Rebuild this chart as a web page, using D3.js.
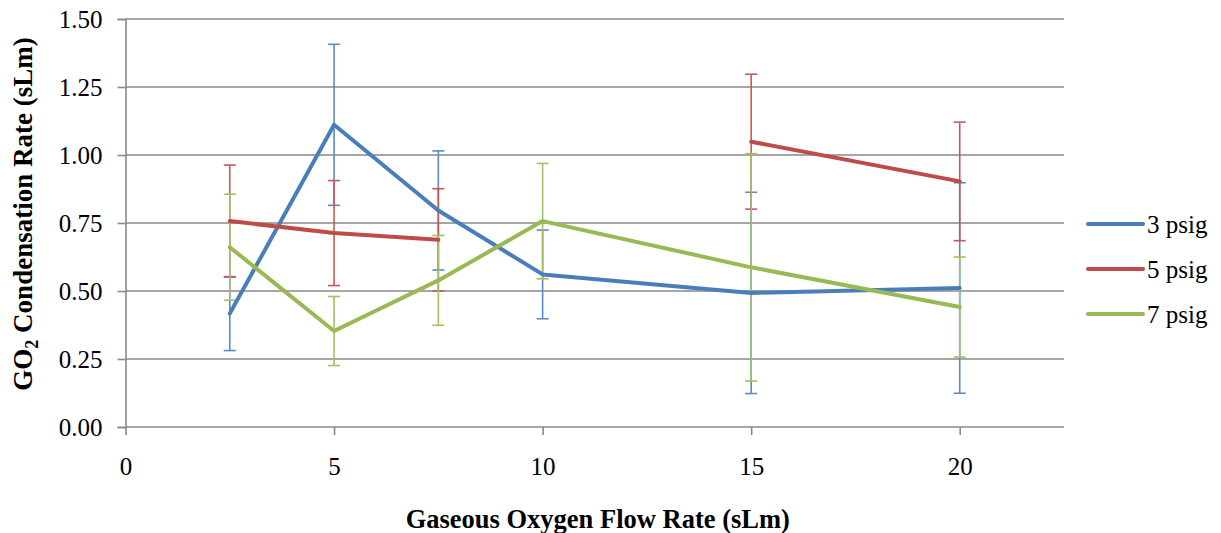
<!DOCTYPE html>
<html>
<head>
<meta charset="utf-8">
<script src="https://cdn.jsdelivr.net/npm/d3@7/dist/d3.min.js"></script>
<style>
  html, body { margin: 0; padding: 0; background: #fff; }
  svg { display: block; }
</style>
</head>
<body>
<svg id="chart" width="1221" height="533"></svg>
<script>
// Gaseous oxygen flow rates (sLm)
const flowRates = [2.5, 5, 7.5, 10, 15, 20];

// Mean GO2 condensation rate per tank pressure (null = not measured)
const psig3 = [0.417, 1.111, 0.796, 0.561, 0.493, 0.511];
const psig5 = [0.757, 0.713, 0.688, null, 1.049, 0.903];
const psig7 = [0.661, 0.353, 0.539, 0.757, 0.587, 0.441];

// Error bar half-widths (± one standard deviation)
const err3 = [0.136, 0.296, 0.219, 0.163, 0.370, 0.387];
const err5 = [0.206, 0.193, 0.188, null, 0.248, 0.218];
const err7 = [0.195, 0.127, 0.165, 0.212, 0.418, 0.184];

const seriesNames = ["3 psig", "5 psig", "7 psig"];
const seriesColors = ["#4a7ebb", "#be4b48", "#98b954"];
const errColors = ["#5b8ac4", "#c45a57", "#a2c063"];

const xTicks = [0, 5, 10, 15, 20];
const yTicks = [0, 0.25, 0.5, 0.75, 1.0, 1.25, 1.5];

const FONT = "Liberation Serif";

const series = [
  { name: seriesNames[0], values: psig3, errs: err3 },
  { name: seriesNames[1], values: psig5, errs: err5 },
  { name: seriesNames[2], values: psig7, errs: err7 }
];

const svg = d3.select("#chart");
const plot = { left: 125.5, right: 1064, top: 19, bottom: 427 };

const x = d3.scaleLinear().domain([0, 22.5]).range([plot.left, plot.right]);
const y = d3.scaleLinear().domain([0, 1.5]).range([plot.bottom, plot.top]);

const gridColor = "#898989";

// Horizontal gridlines
svg.append("g")
  .selectAll("line")
  .data(yTicks.filter(d => d > 0))
  .join("line")
  .attr("x1", plot.left).attr("x2", plot.right)
  .attr("y1", d => y(d)).attr("y2", d => y(d))
  .attr("stroke", gridColor).attr("stroke-width", 1.6);

// Y axis
const yAxis = svg.append("g")
  .attr("transform", `translate(${plot.left},0)`)
  .call(d3.axisLeft(y).tickValues(yTicks).tickFormat(d3.format(".2f")).tickSize(8).tickPadding(15));
yAxis.attr("font-family", FONT).attr("font-size", 25);
yAxis.select(".domain").attr("stroke", gridColor).attr("stroke-width", 1.6);
yAxis.selectAll(".tick line").attr("stroke", gridColor).attr("stroke-width", 1.6);
yAxis.selectAll(".tick text")
  .attr("font-family", FONT).attr("font-size", 25).attr("fill", "#000")
  .attr("dy", "0.33em");

// X axis
const xAxis = svg.append("g")
  .attr("transform", `translate(0,${plot.bottom})`)
  .call(d3.axisBottom(x).tickValues(xTicks).tickFormat(d3.format("d")).tickSize(8).tickPadding(22));
xAxis.attr("font-family", FONT).attr("font-size", 25);
xAxis.select(".domain").attr("stroke", gridColor).attr("stroke-width", 1.6)
  .attr("d", `M${plot.left},0H${plot.right}`);
xAxis.selectAll(".tick line").attr("stroke", gridColor).attr("stroke-width", 1.6);
xAxis.selectAll(".tick text")
  .attr("font-family", FONT).attr("font-size", 25).attr("fill", "#000");

// Error bars
const capHalf = 6;
series.forEach((s, i) => {
  const pts = flowRates.map((f, j) => ({ f, v: s.values[j], e: s.errs[j] }))
    .filter(p => p.v !== null);
  const g = svg.append("g").attr("stroke", errColors[i]).attr("stroke-width", 1.6).attr("fill", "none");
  g.selectAll("line.stem").data(pts).join("line").attr("class", "stem")
    .attr("x1", p => x(p.f)).attr("x2", p => x(p.f))
    .attr("y1", p => y(p.v + p.e)).attr("y2", p => y(p.v - p.e));
  g.selectAll("line.capTop").data(pts).join("line").attr("class", "capTop")
    .attr("x1", p => x(p.f) - capHalf).attr("x2", p => x(p.f) + capHalf)
    .attr("y1", p => y(p.v + p.e)).attr("y2", p => y(p.v + p.e));
  g.selectAll("line.capBot").data(pts).join("line").attr("class", "capBot")
    .attr("x1", p => x(p.f) - capHalf).attr("x2", p => x(p.f) + capHalf)
    .attr("y1", p => y(p.v - p.e)).attr("y2", p => y(p.v - p.e));
});

// Series lines (gaps where no measurement)
const line = d3.line()
  .defined(p => p.v !== null)
  .x(p => x(p.f))
  .y(p => y(p.v));

series.forEach((s, i) => {
  const pts = flowRates.map((f, j) => ({ f, v: s.values[j] }));
  svg.append("path")
    .datum(pts)
    .attr("d", line)
    .attr("fill", "none")
    .attr("stroke", seriesColors[i])
    .attr("stroke-width", 4)
    .attr("stroke-linejoin", "round")
    .attr("stroke-linecap", "round");
});

// Legend
const legend = svg.append("g").attr("transform", "translate(1088,224)");
seriesNames.forEach((n, i) => {
  const row = legend.append("g").attr("transform", `translate(0,${i * 45})`);
  row.append("line").attr("x1", 0).attr("x2", 55).attr("y1", 0).attr("y2", 0)
    .attr("stroke", seriesColors[i]).attr("stroke-width", 4).attr("stroke-linecap", "round");
  row.append("text").attr("x", 59).attr("y", 0).attr("dy", "0.35em")
    .attr("font-family", FONT).attr("font-size", 25).attr("fill", "#000").text(n);
});

// Axis titles
svg.append("text")
  .attr("x", (plot.left + plot.right) / 2 + 3).attr("y", 528)
  .attr("text-anchor", "middle").attr("font-family", FONT)
  .attr("font-weight", "bold").attr("font-size", 26.5)
  .text("Gaseous Oxygen Flow Rate (sLm)");

const yTitle = svg.append("text")
  .attr("transform", "translate(31.5,214) rotate(-90)")
  .attr("text-anchor", "middle").attr("font-family", FONT)
  .attr("font-weight", "bold").attr("font-size", 27);
yTitle.append("tspan").text("GO");
yTitle.append("tspan").attr("font-size", 18).attr("dy", 6).text("2");
yTitle.append("tspan").attr("dy", -6).text(" Condensation Rate (sLm)");
</script>
</body>
</html>
